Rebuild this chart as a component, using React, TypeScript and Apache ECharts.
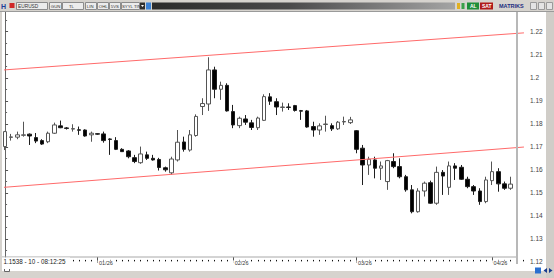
import React, { useEffect, useRef } from "react";
import * as echarts from "echarts";

// ---- categories (trading days) ----
const decDays = [11, 12, 15, 16, 17, 18, 19, 22, 23, 24, 25, 26, 29, 30, 31];
const janDays = [1, 2, 5, 6, 7, 8, 9, 12, 13, 14, 15, 16, 19, 20, 21, 22, 23, 26, 27, 28, 29, 30];
const febDays = [2, 3, 4, 5, 6, 9, 10, 11, 12, 13, 16, 17, 18, 19, 20, 23, 24, 25, 26, 27];
const marDays = [2, 3, 4, 5, 6, 9, 10, 11, 12, 13, 16, 17, 18, 19, 20, 23, 24, 25, 26, 27, 30, 31];
const aprDays = [1, 2, 3, 6, 7, 8];

// ---- EURUSD daily OHLC ----
const openPrices = [
  1.1701, 1.1741, 1.1742, 1.175, 1.1755, 1.174, 1.1727, 1.1722, 1.1759, 1.1791,
  1.1782, 1.1777, 1.1774, 1.1773, 1.1752, 1.1757, 1.1756, 1.1734, 1.1727, 1.1689,
  1.1682, 1.1653, 1.1631, 1.1665, 1.165, 1.1645, 1.1609, 1.1587, 1.1643, 1.1721,
  1.1686, 1.1749, 1.1875, 1.1886, 1.2034, 1.195, 1.1967, 1.1853, 1.1792, 1.1821,
  1.1804, 1.1783, 1.1815, 1.1917, 1.1896, 1.1871, 1.1873, 1.1879, 1.1857, 1.1856,
  1.1788, 1.1773, 1.1797, 1.1792, 1.1778, 1.1808, 1.1805, 1.177, 1.1694, 1.1621,
  1.1643, 1.1607, 1.1549, 1.1636, 1.1614, 1.157, 1.1513, 1.1418, 1.1508, 1.1544,
  1.1455, 1.1589, 1.1524, 1.1617, 1.1611, 1.1559, 1.1527, 1.1508, 1.1462, 1.1553,
  1.1592, 1.1539, 1.152,
];
const highPrices = [
  1.1769, 1.1756, 1.1766, 1.1809, 1.1758, 1.176, 1.1733, 1.1766, 1.1805, 1.1814,
  1.1786, 1.1798, 1.1788, 1.1776, 1.1766, 1.1759, 1.1766, 1.1737, 1.1742, 1.1694,
  1.1686, 1.1665, 1.1701, 1.1679, 1.1665, 1.1652, 1.1614, 1.1657, 1.1773, 1.1744,
  1.1773, 1.1841, 1.1911, 1.2089, 1.2048, 1.1983, 1.1976, 1.1882, 1.1831, 1.1838,
  1.1817, 1.1831, 1.1928, 1.1933, 1.1911, 1.1892, 1.1889, 1.1882, 1.186, 1.186,
  1.1809, 1.1802, 1.1835, 1.1802, 1.1812, 1.1831, 1.183, 1.1773, 1.1708, 1.1657,
  1.1657, 1.1636, 1.1643, 1.1672, 1.165, 1.1578, 1.1534, 1.152, 1.1549, 1.1553,
  1.1614, 1.1599, 1.1636, 1.1629, 1.1621, 1.157, 1.1534, 1.152, 1.157, 1.1636,
  1.1607, 1.1549, 1.157,
];
const lowPrices = [
  1.1686, 1.1727, 1.1733, 1.1744, 1.1708, 1.1716, 1.1708, 1.1716, 1.1756, 1.1781,
  1.1775, 1.1766, 1.1752, 1.1744, 1.1722, 1.1752, 1.1718, 1.1665, 1.1686, 1.1678,
  1.165, 1.1629, 1.1626, 1.1643, 1.164, 1.1597, 1.1592, 1.1579, 1.1636, 1.1679,
  1.1679, 1.1744, 1.1838, 1.1856, 1.1911, 1.1904, 1.1853, 1.1781, 1.1781, 1.1795,
  1.1773, 1.1773, 1.1812, 1.1882, 1.1838, 1.1853, 1.186, 1.1853, 1.1817, 1.1783,
  1.1744, 1.1752, 1.1766, 1.1769, 1.1773, 1.1795, 1.1799, 1.1672, 1.1534, 1.1578,
  1.1563, 1.1556, 1.1513, 1.1607, 1.1563, 1.1505, 1.1411, 1.1414, 1.1484, 1.1452,
  1.1448, 1.1491, 1.1491, 1.1556, 1.1556, 1.152, 1.1491, 1.1448, 1.1455, 1.1534,
  1.1505, 1.1513, 1.1513,
];
const closePrices = [
  1.1766, 1.1743, 1.1752, 1.1752, 1.1747, 1.1725, 1.1712, 1.1759, 1.1795, 1.1783,
  1.178, 1.1779, 1.1772, 1.1747, 1.1759, 1.1755, 1.1727, 1.1732, 1.1689, 1.1679,
  1.1657, 1.1636, 1.1669, 1.165, 1.1643, 1.161, 1.16, 1.1647, 1.172, 1.1689,
  1.1752, 1.1832, 1.1888, 1.2034, 1.195, 1.1967, 1.1856, 1.1795, 1.1824, 1.1807,
  1.1784, 1.1825, 1.1918, 1.1898, 1.1873, 1.1873, 1.1871, 1.1858, 1.1855, 1.1786,
  1.1773, 1.1791, 1.1799, 1.1778, 1.1807, 1.181, 1.1817, 1.1689, 1.1621, 1.1646,
  1.1607, 1.1617, 1.164, 1.1614, 1.157, 1.1513, 1.1418, 1.1508, 1.1542, 1.1455,
  1.1589, 1.1573, 1.1617, 1.1607, 1.1559, 1.1527, 1.1508, 1.1462, 1.1556, 1.1592,
  1.1539, 1.152, 1.1538,
];

// ---- trend lines: [candle index, price] ----
const upperTrend = [[-0.18, 1.2034], [84.17, 1.2195]];
const lowerTrend = [[-0.18, 1.1524], [84.17, 1.1699]];

// ---- y axis ----
const yMin = 1.12;
const yMax = 1.23;
const yStep = 0.01;

const pad = (n: number) => (n < 10 ? "0" + n : "" + n);
const categories: string[] = [
  ...decDays.map((d) => `2025-12-${pad(d)}`),
  ...janDays.map((d) => `2026-01-${pad(d)}`),
  ...febDays.map((d) => `2026-02-${pad(d)}`),
  ...marDays.map((d) => `2026-03-${pad(d)}`),
  ...aprDays.map((d) => `2026-04-${pad(d)}`),
];

const isMonthStart = (index: number) =>
  index > 0 && categories[index].slice(0, 7) !== categories[index - 1].slice(0, 7);

const monthLabel = (v: string) => `${v.slice(5, 7)}/${v.slice(2, 4)}`;

export default function App() {
  const ref = useRef<HTMLDivElement>(null);

  useEffect(() => {
    document.body.style.margin = "0";
    if (!ref.current) return;
    const chart = echarts.init(ref.current, undefined, { renderer: "svg" });

    const candleData = openPrices.map((o, i) => [o, closePrices[i], lowPrices[i], highPrices[i]]);
    const font = "Liberation Sans";

    const box = (x: number, w: number, label: string, tx?: number) => [
      {
        type: "rect",
        z: 51,
        shape: { x: x + 0.5, y: 2.5, width: w, height: 7 },
        style: { fill: "#ececec", stroke: "#8c8c8c", lineWidth: 1 },
      },
      {
        type: "text",
        z: 52,
        style: {
          text: label,
          x: tx != null ? tx : x + 1.8,
          y: 6.2,
          fontSize: 4.3,
          fontFamily: font,
          fill: "#333",
          verticalAlign: "middle",
        },
      },
    ];

    const graphics: any[] = [
      {
        type: "rect",
        z: -10,
        shape: { x: 2, y: 12, width: 544, height: 259 },
        style: { fill: "#ffffff" },
      },
      {
        type: "rect",
        z: 50,
        shape: { x: 0, y: 0, width: 554, height: 12 },
        style: { fill: "#d6d3ce" },
      },
      {
        type: "line",
        z: 50,
        shape: { x1: 0, y1: 11.5, x2: 554, y2: 11.5 },
        style: { stroke: "#9a9a9a", lineWidth: 1 },
      },
      {
        type: "text",
        z: 52,
        style: { text: "H", x: 1, y: 6, fontSize: 7, fontWeight: "bold", fontFamily: font, fill: "#1a3d9a", verticalAlign: "middle" },
      },
      {
        type: "rect",
        z: 51,
        shape: { x: 9.5, y: 3, width: 5, height: 5 },
        style: { fill: "#d02828" },
      },
      {
        type: "rect",
        z: 51,
        shape: { x: 16.5, y: 2.5, width: 31, height: 7 },
        style: { fill: "#ececec", stroke: "#8c8c8c", lineWidth: 1 },
      },
      {
        type: "text",
        z: 52,
        style: { text: "EURUSD", x: 18, y: 6.2, fontSize: 4.8, fontFamily: font, fill: "#333", verticalAlign: "middle" },
      },
      ...box(49, 12, "GUN"),
      ...box(62, 21, "TL", 69),
      ...box(85, 11, "LIN"),
      ...box(97, 11, "OHL"),
      ...box(109, 11, "5VS"),
      ...box(121, 18, "SYYL TINF", 122),
      {
        type: "rect",
        z: 51,
        shape: { x: 140, y: 2.5, width: 5, height: 7 },
        style: { fill: "#2e2e2e" },
      },
      {
        type: "polygon",
        z: 52,
        shape: { points: [[141, 5], [144, 5], [142.5, 7]] },
        style: { fill: "#ffffff" },
      },
      {
        type: "rect",
        z: 51,
        shape: { x: 146, y: 2.5, width: 5, height: 7 },
        style: { fill: "#3b82d6" },
      },
      {
        type: "rect",
        z: 51,
        shape: { x: 152, y: 2.5, width: 303, height: 7 },
        style: {
          fill: new echarts.graphic.LinearGradient(0, 0, 1, 0, [
            { offset: 0, color: "#2b2b2b" },
            { offset: 0.45, color: "#4a4a4a" },
            { offset: 1, color: "#a4a4a4" },
          ]),
        },
      },
      {
        type: "rect",
        z: 51,
        shape: { x: 457, y: 3, width: 3, height: 6 },
        style: { fill: "#e2b020" },
      },
      {
        type: "rect",
        z: 51,
        shape: { x: 461.5, y: 3, width: 3, height: 6 },
        style: { fill: "#3aa04a" },
      },
      {
        type: "rect",
        z: 51,
        shape: { x: 467, y: 2.5, width: 12, height: 7 },
        style: { fill: "#1f8f3a" },
      },
      {
        type: "text",
        z: 52,
        style: { text: "AL", x: 470, y: 6.2, fontSize: 5, fontWeight: "bold", fontFamily: font, fill: "#ffffff", verticalAlign: "middle" },
      },
      {
        type: "rect",
        z: 51,
        shape: { x: 480, y: 2.5, width: 13, height: 7 },
        style: { fill: "#b01a1a" },
      },
      {
        type: "text",
        z: 52,
        style: { text: "SAT", x: 482, y: 6.2, fontSize: 5, fontWeight: "bold", fontFamily: font, fill: "#ffffff", verticalAlign: "middle" },
      },
      {
        type: "text",
        z: 52,
        style: { text: "MATRIKS", x: 499, y: 6.2, fontSize: 5.5, fontWeight: "bold", fontFamily: font, fill: "#1c2c80", verticalAlign: "middle" },
      },
      ...[530, 538, 546].map((x) => ({
        type: "rect",
        z: 51,
        shape: { x: x + 0.5, y: 2.5, width: 6, height: 7 },
        style: { fill: "#e4e4e4", stroke: "#9a9a9a", lineWidth: 1 },
      })),
      {
        type: "rect",
        z: 40,
        shape: { x: 516, y: 12, width: 2, height: 252 },
        style: { fill: "#b8b8b8" },
      },
      {
        type: "line",
        z: 40,
        shape: { x1: 2, y1: 257, x2: 516, y2: 257 },
        style: { stroke: "#a8a8a8", lineWidth: 1 },
      },
      {
        type: "rect",
        z: 45,
        shape: { x: 2, y: 257.5, width: 68, height: 7 },
        style: { fill: "#ffffff" },
      },
      {
        type: "text",
        z: 46,
        style: { text: "1.1538 - 10 - 08:12:25", x: 3.5, y: 261, fontSize: 6.3, fontFamily: font, fill: "#222", verticalAlign: "middle" },
      },
      {
        type: "polyline",
        z: 46,
        shape: { points: [[4.5, 269], [4.5, 271.5], [9.5, 271.5], [9.5, 269]] },
        style: { stroke: "#666", lineWidth: 1, fill: "none" },
      },
      {
        type: "rect",
        z: 50,
        shape: { x: 0, y: 272, width: 554, height: 6 },
        style: { fill: "#d6d3ce" },
      },
      {
        type: "rect",
        z: 51,
        shape: { x: 535, y: 267.5, width: 6, height: 6 },
        style: { fill: "#2a6fd0" },
      },
      {
        type: "polygon",
        z: 51,
        shape: { points: [[547, 268], [547, 273], [543.5, 270.5]] },
        style: { fill: "#1a3d8f" },
      },
      {
        type: "polygon",
        z: 51,
        shape: { points: [[549, 268], [549, 273], [552.5, 270.5]] },
        style: { fill: "#1a3d8f" },
      },
      {
        type: "rect",
        z: 50,
        shape: { x: 546, y: 12, width: 8, height: 266 },
        style: { fill: "#d0cdc8" },
      },
    ];

    chart.setOption({
      animation: false,
      backgroundColor: "#d6d3ce",
      grid: { left: 2, right: 28, top: 8.7, bottom: 16.1, containLabel: false },
      xAxis: [
        {
          type: "category",
          data: categories,
          gridIndex: 0,
          position: "bottom",
          offset: -2,
          axisLine: { show: false },
          axisTick: {
            show: true,
            interval: 0,
            alignWithLabel: true,
            length: 1.5,
            lineStyle: { color: "#111", width: 1 },
          },
          axisLabel: {
            show: true,
            interval: (index: number) => isMonthStart(index),
            formatter: (v: string) => monthLabel(v),
            align: "left",
            fontSize: 5.5,
            fontFamily: font,
            color: "#333",
            margin: 0.5,
            padding: [0, 1, 0, 1.5],
            backgroundColor: "#ffffff",
          },
          splitLine: { show: false },
        },
        {
          type: "category",
          data: categories,
          gridIndex: 0,
          position: "bottom",
          offset: -4.9,
          axisLine: { show: false },
          axisTick: {
            show: true,
            interval: (index: number) => isMonthStart(index),
            alignWithLabel: true,
            length: 6,
            lineStyle: { color: "#555", width: 1 },
          },
          axisLabel: { show: false },
          splitLine: { show: false },
        },
        {
          type: "value",
          gridIndex: 0,
          min: -0.5,
          max: categories.length - 0.5,
          show: false,
        },
      ],
      yAxis: {
        type: "value",
        position: "right",
        min: yMin,
        max: yMax,
        interval: yStep,
        axisLine: { show: true, lineStyle: { color: "#666", width: 1 } },
        axisTick: { show: true, length: 3, lineStyle: { color: "#555" } },
        minorTick: { show: true, splitNumber: 2, length: 2, lineStyle: { color: "#666" } },
        axisLabel: {
          fontSize: 6.5,
          fontFamily: font,
          color: "#444",
          margin: 4,
          showMaxLabel: false,
        },
        splitLine: { show: false },
      },
      series: [
        {
          type: "candlestick",
          xAxisIndex: 0,
          yAxisIndex: 0,
          data: candleData,
          barWidth: 4,
          itemStyle: {
            color: "#ffffff",
            color0: "#000000",
            borderColor: "#555555",
            borderColor0: "#1e1e1e",
            borderWidth: 1,
          },
        },
        {
          type: "line",
          xAxisIndex: 2,
          yAxisIndex: 0,
          data: upperTrend,
          symbol: "none",
          lineStyle: { color: "#ff6a6a", width: 1 },
          silent: true,
        },
        {
          type: "line",
          xAxisIndex: 2,
          yAxisIndex: 0,
          data: lowerTrend,
          symbol: "none",
          lineStyle: { color: "#ff6a6a", width: 1 },
          silent: true,
        },
      ],
      graphic: { elements: graphics },
    });

    return () => chart.dispose();
  }, []);

  return (
    <div
      ref={ref}
      style={{ width: 554, height: 278, position: "fixed", left: 0, top: 0 }}
    />
  );
}
